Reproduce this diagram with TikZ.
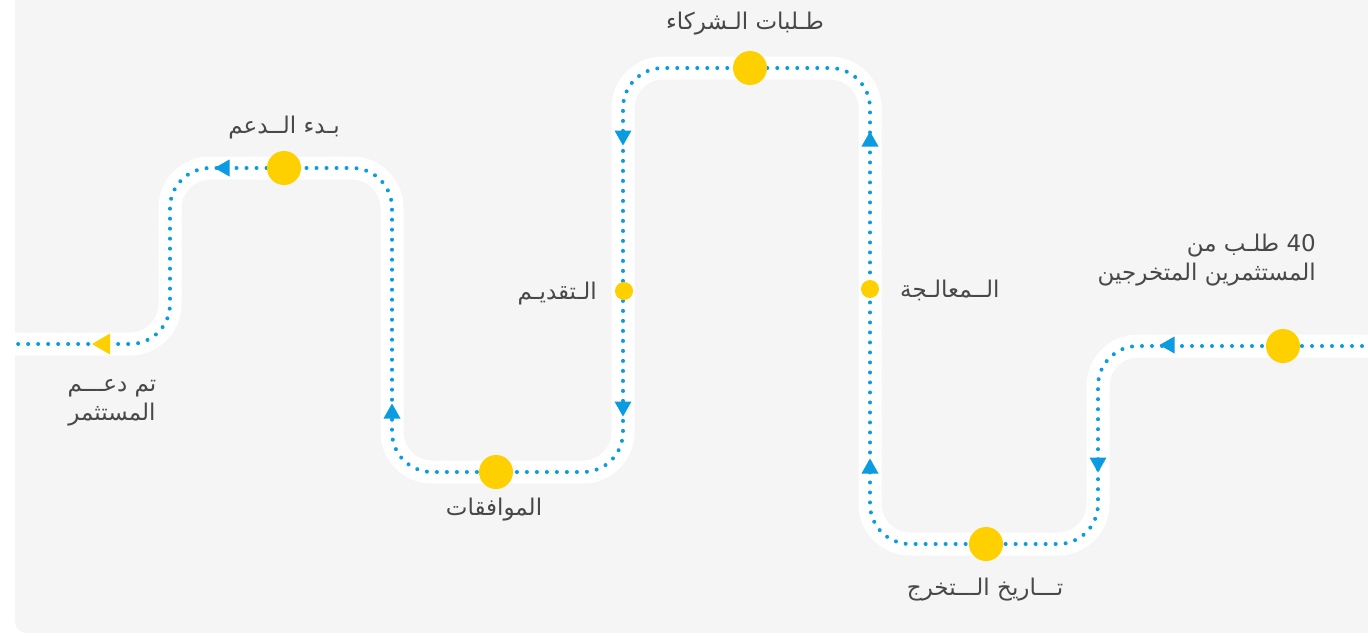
\documentclass[tikz,border=0pt]{standalone}
\usepackage{fontspec}
\newfontfamily\arabicfont[Script=Arabic]{DejaVu Sans}
\TeXXeTstate=1
\definecolor{bg}{HTML}{F5F5F5}
\definecolor{pathblue}{HTML}{0A9BE0}
\definecolor{dotyellow}{HTML}{FFD000}
\definecolor{txt}{HTML}{484848}
\begin{document}
\begin{tikzpicture}[x=1pt,y=-1pt,
 band/.style={white,line width=23pt,rounded corners=40pt},
 dots/.style={pathblue,line width=4pt,line cap=round,dash pattern=on 0pt off 10pt,rounded corners=40pt},
 bigdot/.style={circle,fill=dotyellow,minimum size=34pt,inner sep=0pt},
 smalldot/.style={circle,fill=dotyellow,minimum size=18pt,inner sep=0pt},
 lbl/.style={text=txt,font=\arabicfont\fontsize{23}{29}\selectfont,inner sep=0pt},
 arrowtri/.pic={\fill[pathblue] (-7.5,0) -- (7.5,-8.5) -- (7.5,8.5) -- cycle;},
 yarrow/.pic={\fill[dotyellow] (-9,0) -- (9,-10.5) -- (9,10.5) -- cycle;}
]
\useasboundingbox (0,0) rectangle (1368,635);
\fill[bg,rounded corners=12pt] (15,-30) rectangle (1400,633);
% road
\foreach \s in {band,dots}
  \draw[\s] (1372,346) -- (1098,346) -- (1098,544) -- (870,544) -- (870,68)
    -- (623,68) -- (623,472) -- (392,472) -- (392,168) -- (170,168)
    -- (170,344) -- (14,344);
% arrows
\pic at (222,168) {arrowtri};
\pic[rotate=-90] at (392,411) {arrowtri};
\pic[rotate=90] at (623,138) {arrowtri};
\pic[rotate=90] at (623,409) {arrowtri};
\pic[rotate=-90] at (870,139) {arrowtri};
\pic[rotate=-90] at (870,466) {arrowtri};
\pic[rotate=90] at (1098,465) {arrowtri};
\pic at (1167,345) {arrowtri};
\pic at (101,344) {yarrow};
% stations
\node[bigdot] (s1) at (1283,346) {};
\node[bigdot] (s2) at (986,544) {};
\node[bigdot] (s3) at (750,68) {};
\node[bigdot] (s4) at (496,472) {};
\node[bigdot] (s5) at (284,168) {};
\node[smalldot] (m1) at (870,289) {};
\node[smalldot] (m2) at (624,291) {};
% labels
\node[lbl,align=right,anchor=east] (t1) at (1316,260) {\beginR\beginL 40\endL{} طلـب من\endR\\\beginR المستثمرين المتخرجين\endR};
\node[lbl] (t2) at (985,590) {\beginR تـــاريخ الـــتخرج\endR};
\node[lbl,anchor=west] (t3) at (900,290) {\beginR الــمعالـجة\endR};
\node[lbl] (t4) at (745,24) {\beginR طـلبات الـشركاء\endR};
\node[lbl,anchor=east] (t5) at (597,294) {\beginR الـتقديـم\endR};
\node[lbl] (t6) at (494,510) {\beginR الموافقات\endR};
\node[lbl] (t7) at (284,128) {\beginR بـدء الــدعم\endR};
\node[lbl,align=center] (t8) at (112,403) {\beginR تم دعـــم\endR\\\beginR المستثمر\endR};
\end{tikzpicture}
\end{document}
